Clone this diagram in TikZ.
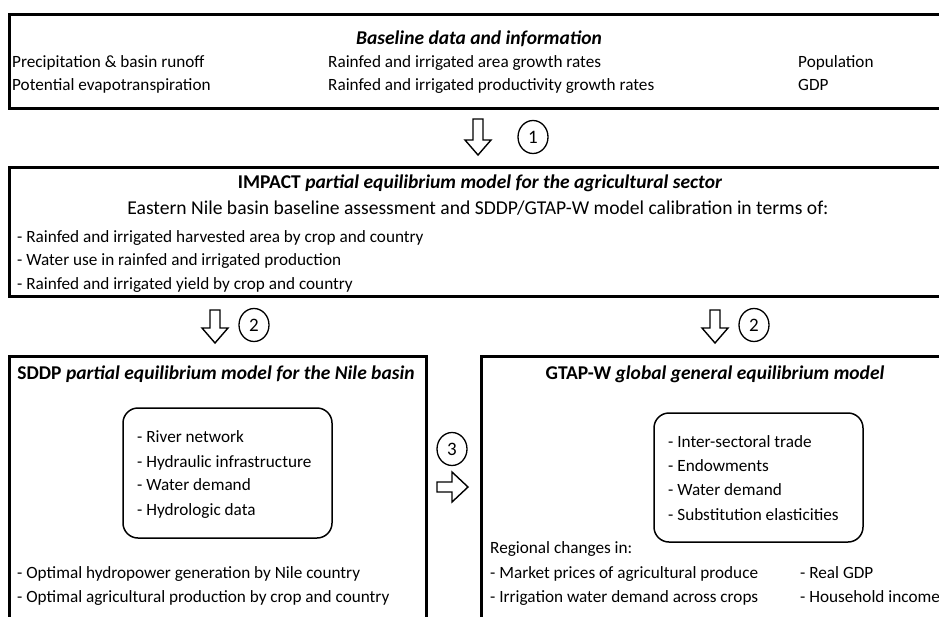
\documentclass[tikz,border=0pt]{standalone}
\usepackage{fontspec}
\setmainfont{Carlito}
\usetikzlibrary{shapes.geometric}
\begin{document}
\begin{tikzpicture}[x=1pt,y=-1pt,
  box/.style={draw, line width=2.8pt, inner sep=0pt, anchor=north west},
  inbox/.style={draw, line width=1.5pt, rounded corners=15pt},
  txt/.style={inner sep=0pt, anchor=base west, font=\fontsize{17.2}{20}\selectfont},
  ttl/.style={inner sep=0pt, anchor=base, font=\fontsize{19.5}{22}\selectfont\bfseries},
  big/.style={inner sep=0pt, anchor=base, font=\fontsize{19.6}{22}\selectfont},
  num/.style={draw, ellipse, line width=1.3pt, minimum width=30pt, minimum height=33pt, inner sep=0pt, font=\fontsize{19}{20}\selectfont},
  pics/downarr/.style={code={
    \draw[line width=1.4pt, line join=miter] (-5,0) -- (5,0) -- (5,#1-15) -- (13,#1-15) -- (0,#1) -- (-13,#1-15) -- (-5,#1-15) -- cycle;}},
  pics/rightarr/.style={code={
    \draw[line width=1.4pt, line join=miter] (0,-5) -- (15,-5) -- (15,-15) -- (31,0) -- (15,15) -- (15,5) -- (0,5) -- cycle;}}
]
\useasboundingbox (0,0) rectangle (939,616);
\clip (0,0) rectangle (939,616);

% Baseline box
\node[box, minimum width=960pt, minimum height=94pt] (base) at (8,13) {};
\node[ttl] (bt) at (479,44) {\textit{Baseline data and information}};
\node[txt] (b11) at (12,67) {Precipitation \& basin runoff};
\node[txt] (b12) at (12,90) {Potential evapotranspiration};
\node[txt] (b21) at (328,67) {Rainfed and irrigated area growth rates};
\node[txt] (b22) at (328,90) {Rainfed and irrigated productivity growth rates};
\node[txt] (b31) at (798,67) {Population};
\node[txt] (b32) at (798,90) {GDP};

% Arrow 1
\coordinate (a1) at (478,119);
\pic at (a1) {downarr=36};
\node[num] (n1) at (533,137) {1};

% IMPACT box
\node[box, minimum width=960pt, minimum height=129pt] (impact) at (8,166) {};
\node[ttl] (it) at (480,188) {IMPACT \textit{partial equilibrium model for the agricultural sector}};
\node[big] (ie) at (478,214) {Eastern Nile basin baseline assessment and SDDP/GTAP-W model calibration in terms of:};
\node[txt] (i1) at (17,242) {- Rainfed and irrigated harvested area by crop and country};
\node[txt] (i2) at (17,265) {- Water use in rainfed and irrigated production};
\node[txt] (i3) at (17,289) {- Rainfed and irrigated yield by crop and country};

% Arrows 2
\coordinate (a2l) at (215,310);
\pic at (a2l) {downarr=33};
\node[num] (n2l) at (254,325) {2};
\coordinate (a2r) at (715,310);
\pic at (a2r) {downarr=33};
\node[num] (n2r) at (754,325) {2};

% SDDP box
\node[box, minimum width=417pt, minimum height=300pt] (sddp) at (8,355) {};
\node[ttl] (st) at (216,379) {SDDP \textit{partial equilibrium model for the Nile basin}};
\draw[inbox] (123,408) rectangle (332,538);
\node[txt] (s1) at (137,442) {- River network};
\node[txt] (s2) at (137,467) {- Hydraulic infrastructure};
\node[txt] (s3) at (137,490) {- Water demand};
\node[txt] (s4) at (137,515) {- Hydrologic data};
\node[txt] (s5) at (17,578) {- Optimal hydropower generation by Nile country};
\node[txt] (s6) at (17,602) {- Optimal agricultural production by crop and country};

% Arrow 3
\coordinate (a3) at (437,487);
\pic at (a3) {rightarr};
\node[num] (n3) at (452,449) {3};

% GTAP-W box
\node[box, minimum width=500pt, minimum height=300pt] (gtap) at (480,355) {};
\node[ttl] (gt) at (715,379) {GTAP-W \textit{global general equilibrium model}};
\draw[inbox] (654,413) rectangle (863,542);
\node[txt] (g1) at (668,447) {- Inter-sectoral trade};
\node[txt] (g2) at (668,471) {- Endowments};
\node[txt] (g3) at (668,495) {- Water demand};
\node[txt] (g4) at (668,520) {- Substitution elasticities};
\node[txt] (g5) at (490,553) {Regional changes in:};
\node[txt] (g6) at (490,578) {- Market prices of agricultural produce};
\node[txt] (g7) at (490,602) {- Irrigation water demand across crops};
\node[txt] (g8) at (800,578) {- Real GDP};
\node[txt] (g9) at (800,602) {- Household income};
\end{tikzpicture}
\end{document}
